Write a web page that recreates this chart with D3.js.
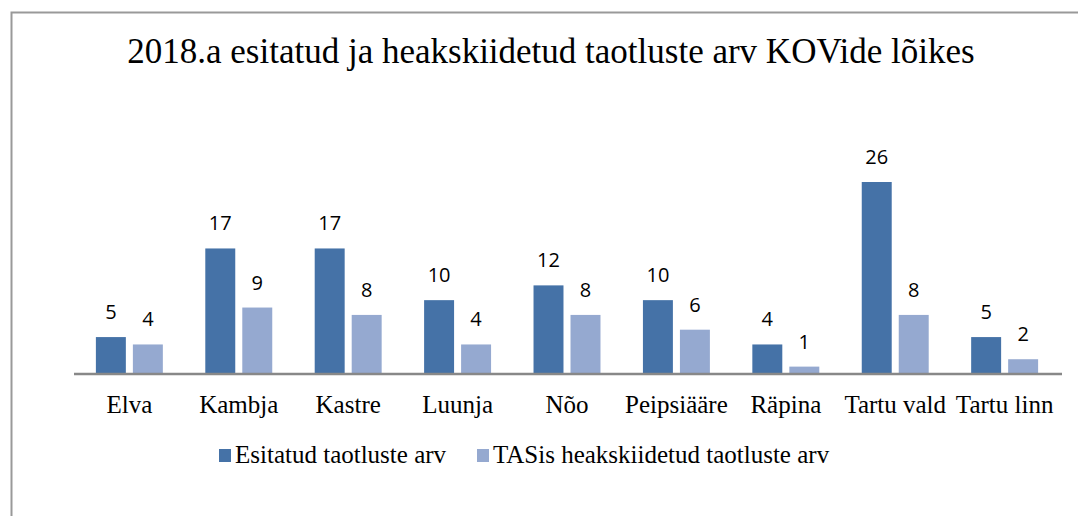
<!DOCTYPE html>
<html>
<head>
<meta charset="utf-8">
<script src="https://cdn.jsdelivr.net/npm/d3@7"></script>
<style>
  body { margin: 0; background: #fff; }
</style>
</head>
<body>
<script>
// data
var kovid = ["Elva", "Kambja", "Kastre", "Luunja", "Nõo", "Peipsiääre", "Räpina", "Tartu vald", "Tartu linn"];
var esitatud = [5, 17, 17, 10, 12, 10, 4, 26, 5];
var heakskiidetud = [4, 9, 8, 4, 8, 6, 1, 8, 2];
var seeriaNimed = ["Esitatud taotluste arv", "TASis heakskiidetud taotluste arv"];
var varvid = ["#4572A7", "#95A9D0"];

var width = 1078, height = 516;

var svg = d3.select("body").append("svg")
  .attr("width", width)
  .attr("height", height);

// raam (paistab ainult ülemine ja vasak serv)
svg.append("path")
  .attr("d", "M11.5," + height + " V12.5 H" + width)
  .attr("fill", "none")
  .attr("stroke", "#999")
  .attr("stroke-width", 2);

svg.append("text")
  .attr("x", 551)
  .attr("y", 63)
  .attr("text-anchor", "middle")
  .style("font-family", "'Liberation Serif', 'Times New Roman', serif")
  .style("font-size", "35px")
  .text("2018.a esitatud ja heakskiidetud taotluste arv KOVide lõikes");

var x0 = d3.scaleBand()
  .domain(kovid)
  .range([74, 1060])
  .paddingInner(0.388)
  .paddingOuter(0.2);

var x1 = d3.scaleBand()
  .domain([0, 1])
  .range([0, x0.bandwidth()])
  .paddingInner(0.19);

var y = d3.scaleLinear()
  .domain([0, 26])
  .range([374, 182]);

var rows = kovid.map(function(k, i) {
  return { k: k, v: [esitatud[i], heakskiidetud[i]] };
});

var grupp = svg.selectAll(".grupp")
  .data(rows)
  .enter().append("g")
  .attr("class", "grupp")
  .attr("transform", function(d) { return "translate(" + x0(d.k) + ",0)"; });

grupp.selectAll("rect")
  .data(function(d) { return d.v; })
  .enter().append("rect")
  .attr("x", function(d, i) { return x1(i); })
  .attr("y", function(d) { return y(d); })
  .attr("width", x1.bandwidth())
  .attr("height", function(d) { return y(0) - y(d); })
  .attr("fill", function(d, i) { return varvid[i]; });

grupp.selectAll("text")
  .data(function(d) { return d.v; })
  .enter().append("text")
  .attr("x", function(d, i) { return x1(i) + x1.bandwidth() / 2; })
  .attr("y", function(d) { return y(d) - 18; })
  .attr("text-anchor", "middle")
  .style("font-family", "'Open Sans', 'DejaVu Sans', sans-serif")
  .style("font-size", "20px")
  .text(function(d) { return d; });

// x telg
var xAxis = svg.append("g")
  .attr("transform", "translate(0," + y(0) + ")")
  .call(d3.axisBottom(x0).tickSize(0).tickPadding(21));
xAxis.select(".domain")
  .attr("d", "M74,0H1062")
  .attr("stroke", "#888")
  .attr("stroke-width", 2.5);
xAxis.selectAll("text")
  .style("font-family", "'Liberation Serif', 'Times New Roman', serif")
  .style("font-size", "25px")
  .attr("fill", "#000");

// legend
var legendX = [219, 477];
var leg = svg.selectAll(".leg")
  .data(seeriaNimed)
  .enter().append("g")
  .attr("class", "leg")
  .attr("transform", function(d, i) { return "translate(" + legendX[i] + ",449)"; });
leg.append("rect")
  .attr("width", 12)
  .attr("height", 13)
  .attr("fill", function(d, i) { return varvid[i]; });
leg.append("text")
  .attr("x", 16)
  .attr("y", 14)
  .style("font-family", "'Liberation Serif', 'Times New Roman', serif")
  .style("font-size", "25px")
  .text(function(d) { return d; });
</script>
</body>
</html>
